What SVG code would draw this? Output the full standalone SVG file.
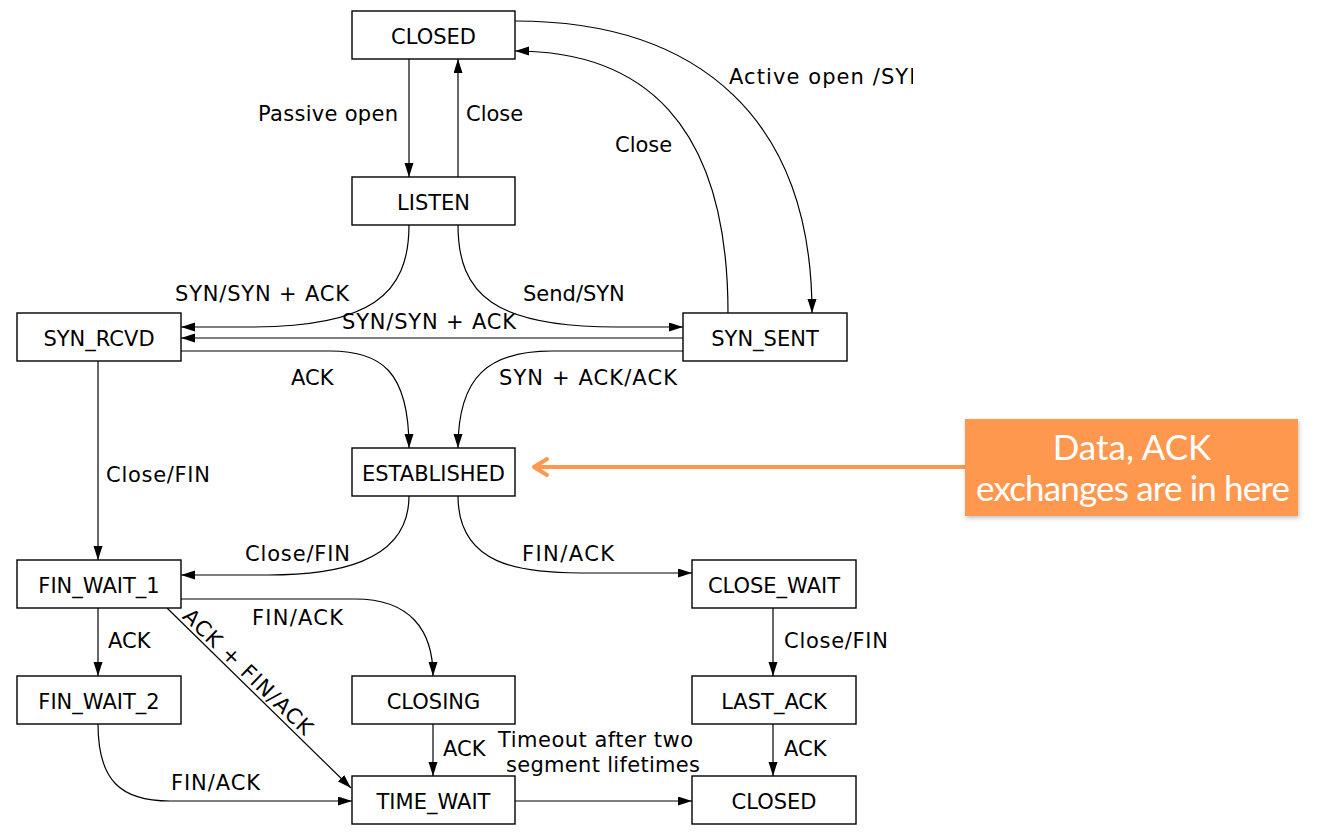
<svg xmlns="http://www.w3.org/2000/svg" width="1327" height="834" viewBox="0 0 1327 834">
<style>
.box rect{fill:#fff;stroke:#000;stroke-width:1.4}
.box text{font-family:"DejaVu Sans",sans-serif;font-size:21px;fill:#000;text-anchor:middle}
.edge{fill:none;stroke:#000;stroke-width:1.2}
.arr{marker-end:url(#ah)}
.lbl{font-family:"DejaVu Sans",sans-serif;font-size:21px;fill:#000}
.note text{font-family:Lato,"Open Sans",sans-serif;font-size:35px;fill:#fff;text-anchor:middle}
</style>
<defs>
<marker id="ah" markerUnits="userSpaceOnUse" markerWidth="15" markerHeight="10" refX="14" refY="4.5" orient="auto">
<path d="M0,0 L14,4.5 L0,9 z" fill="#000"/>
</marker>
<clipPath id="clipR"><rect x="0" y="0" width="913" height="834"/></clipPath>
<filter id="sh" x="-10%" y="-10%" width="120%" height="130%">
<feDropShadow dx="1" dy="2" stdDeviation="2" flood-color="#000" flood-opacity="0.25"/>
</filter>
</defs>
<rect width="1327" height="834" fill="#fff"/>

<g id="connectors">
<path class="edge arr" d="M409,59 L409,177"/>
<path class="edge arr" d="M458,177 L458,59"/>
<path class="edge arr" d="M515,21 C700,21 812,120 812,313"/>
<path class="edge arr" d="M728,313 C728,120 640,51 515,51"/>
<path class="edge arr" d="M409,225 C409,295 370,327 250,327 L181,327"/>
<path class="edge arr" d="M458,225 C458,295 495,327 616,327 L683,327"/>
<path class="edge arr" d="M683,338 L181,338"/>
<path class="edge arr" d="M181,351 L330,351 C380,351 409,370 409,448"/>
<path class="edge arr" d="M683,351 L552,351 C490,351 458,375 458,448"/>
<path class="edge arr" d="M98,361 L98,560"/>
<path class="edge arr" d="M409,496 C409,565 330,575 268,575 L181,575"/>
<path class="edge arr" d="M458,496 C458,565 520,573 580,573 L692,573"/>
<path class="edge arr" d="M181,599 L355,599 C410,599 433,630 433,676"/>
<path class="edge arr" d="M98,608 L98,676"/>
<path class="edge arr" d="M167,608 L351,788"/>
<path class="edge arr" d="M98,724 C98,780 120,801 170,801 L352,801"/>
<path class="edge arr" d="M433,724 L433,776"/>
<path class="edge arr" d="M515,801 L692,801"/>
<path class="edge arr" d="M773,608 L773,676"/>
<path class="edge arr" d="M773,724 L773,776"/>

<text class="lbl" x="258" y="121" textLength="140">Passive open</text>
<text class="lbl" x="466" y="121">Close</text>
<text class="lbl" x="729" y="84" textLength="196" clip-path="url(#clipR)">Active open /SYN</text>
<text class="lbl" x="615" y="152">Close</text>
<text class="lbl" x="175" y="301" textLength="174">SYN/SYN + ACK</text>
<text class="lbl" x="523" y="301">Send/SYN</text>
<text class="lbl" x="342" y="329" textLength="174">SYN/SYN + ACK</text>
<text class="lbl" x="291" y="385">ACK</text>
<text class="lbl" x="499" y="385" textLength="178">SYN + ACK/ACK</text>
<text class="lbl" x="106" y="482" textLength="104">Close/FIN</text>
<text class="lbl" x="245" y="561" textLength="105">Close/FIN</text>
<text class="lbl" x="522" y="561" textLength="92">FIN/ACK</text>
<text class="lbl" x="252" y="625" textLength="91">FIN/ACK</text>
<text class="lbl" x="108" y="648">ACK</text>
<text class="lbl" x="784" y="648" textLength="104">Close/FIN</text>
<text class="lbl" x="443" y="756">ACK</text>
<text class="lbl" x="498" y="747" textLength="195">Timeout after two</text>
<text class="lbl" x="506" y="772" textLength="194">segment lifetimes</text>
<text class="lbl" x="784" y="756">ACK</text>
<text class="lbl" x="171" y="790" textLength="89">FIN/ACK</text>
<text class="lbl" text-anchor="middle" transform="translate(243,677) rotate(44)" textLength="171">ACK + FIN/ACK</text>

<line x1="965" y1="467" x2="537" y2="467" stroke="#FF984F" stroke-width="4"/>
<polyline points="547,459 534,467 547,475" fill="none" stroke="#FF984F" stroke-width="4" stroke-linecap="round" stroke-linejoin="round"/>
</g>

<g id="closed_top" class="box"><rect x="352" y="11" width="163" height="48"/><text x="433.5" y="44">CLOSED</text></g>
<g id="listen" class="box"><rect x="352" y="177" width="163" height="48"/><text x="433.5" y="210">LISTEN</text></g>
<g id="syn_rcvd" class="box"><rect x="17" y="313" width="164" height="48"/><text x="99" y="346">SYN_RCVD</text></g>
<g id="syn_sent" class="box"><rect x="683" y="313" width="164" height="48"/><text x="765" y="346">SYN_SENT</text></g>
<g id="established" class="box"><rect x="352" y="448" width="163" height="48"/><text x="433.5" y="481">ESTABLISHED</text></g>
<g id="fin_wait_1" class="box"><rect x="17" y="560" width="164" height="48"/><text x="99" y="593">FIN_WAIT_1</text></g>
<g id="close_wait" class="box"><rect x="692" y="560" width="164" height="48"/><text x="774" y="593">CLOSE_WAIT</text></g>
<g id="fin_wait_2" class="box"><rect x="17" y="676" width="164" height="48"/><text x="99" y="709">FIN_WAIT_2</text></g>
<g id="closing" class="box"><rect x="352" y="676" width="163" height="48"/><text x="433.5" y="709">CLOSING</text></g>
<g id="last_ack" class="box"><rect x="692" y="676" width="164" height="48"/><text x="774" y="709">LAST_ACK</text></g>
<g id="time_wait" class="box"><rect x="352" y="776" width="163" height="48"/><text x="433.5" y="809">TIME_WAIT</text></g>
<g id="closed_bottom" class="box"><rect x="692" y="776" width="164" height="48"/><text x="774" y="809">CLOSED</text></g>

<g id="note" class="note">
<rect x="965" y="419" width="333" height="97" fill="#FF984F" filter="url(#sh)"/>
<text x="1132" y="460">Data, ACK</text>
<text x="1133" y="501" textLength="314">exchanges are in here</text>
</g>
</svg>
